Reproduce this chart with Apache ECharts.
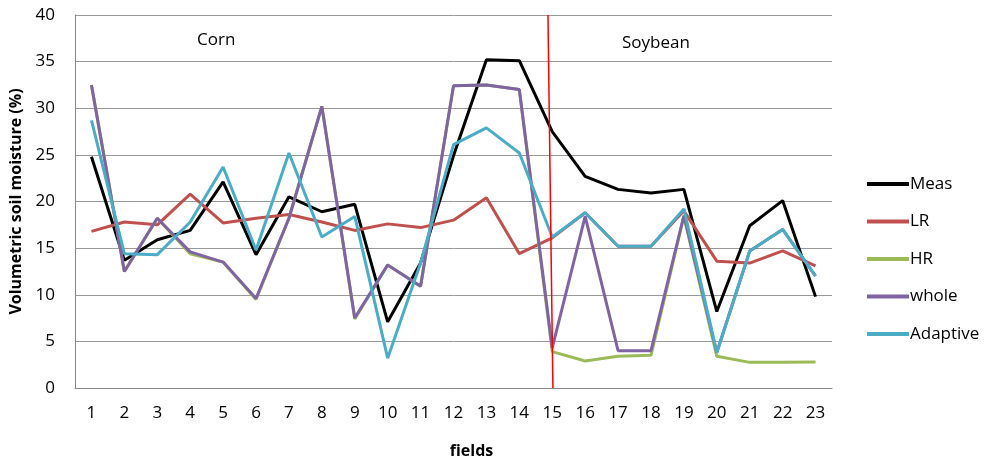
<!DOCTYPE html>
<html lang="en" style="height: 100%">
<head>
  <meta charset="utf-8">
</head>
<body style="height: 100%; margin: 0; background: #fff">
  <div id="container" style="height: 100%"></div>
  <script type="text/javascript" src="https://fastly.jsdelivr.net/npm/echarts@6.0.0/dist/echarts.min.js"></script>
  <script type="text/javascript">
    // fields 1..23 (1-14 corn, 15-23 soybean)
    var fields = ['1','2','3','4','5','6','7','8','9','10','11','12','13','14','15','16','17','18','19','20','21','22','23'];
    var meas     = [24.8, 13.7, 15.9, 16.9, 22.1, 14.3, 20.5, 18.9, 19.7, 7.1, 13.4, 24.9, 35.2, 35.1, 27.5, 22.7, 21.3, 20.9, 21.3, 8.2, 17.4, 20.1, 9.8];
    var lr       = [16.8, 17.8, 17.5, 20.8, 17.7, 18.2, 18.6, 17.8, 16.9, 17.6, 17.2, 18.0, 20.4, 14.4, 16.1, 18.8, 15.2, 15.2, 19.0, 13.6, 13.4, 14.7, 13.1];
    var hr       = [32.5, 12.5, 18.2, 14.4, 13.5, 9.5, 18.2, 30.2, 7.4, 13.2, 10.9, 32.4, 32.5, 32.0, 3.9, 2.9, 3.4, 3.5, 18.4, 3.4, 2.75, 2.75, 2.8];
    var whole    = [32.5, 12.5, 18.2, 14.6, 13.5, 9.6, 18.2, 30.2, 7.5, 13.2, 10.9, 32.4, 32.5, 32.0, 4.3, 18.4, 4.0, 4.0, 18.5, 3.8, 14.7, 17.0, 12.0];
    var adaptive = [28.7, 14.4, 14.3, 17.8, 23.7, 14.8, 25.2, 16.2, 18.4, 3.2, 13.4, 26.1, 27.9, 25.2, 16.2, 18.8, 15.2, 15.2, 19.2, 3.8, 14.7, 17.0, 12.0];
    // corn / soybean divider (x in field units, y in %)
    var divider = [[14.87, 40], [15.02, 0]];

    var names = ['Meas', 'LR', 'HR', 'whole', 'Adaptive'];
    var colors = ['#000000', '#c0504d', '#9bbb59', '#8064a2', '#4bacc6'];
    var values = [meas, lr, hr, whole, adaptive];
    var font = '"Open Sans", sans-serif';

    var dom = document.getElementById('container');
    var myChart = echarts.init(dom, null, { renderer: 'canvas' });

    var series = names.map(function (n, i) {
      return {
        name: n,
        type: 'line',
        data: values[i],
        symbol: 'none',
        color: colors[i],
        lineStyle: { width: 3, color: colors[i] },
        z: 2 + i
      };
    });
    series.push({
      name: 'divider',
      type: 'line',
      xAxisIndex: 1,
      data: divider,
      symbol: 'none',
      lineStyle: { width: 1.5, color: '#ff0000' },
      z: 10
    });

    var option = {
      animation: false,
      textStyle: { fontFamily: font },
      grid: { left: 75, top: 15, right: 159, bottom: 78, containLabel: false, outerBoundsMode: 'none' },
      legend: {
        data: names,
        orient: 'vertical',
        left: 862,
        top: 169,
        icon: 'rect',
        itemWidth: 42,
        itemHeight: 4,
        itemGap: 17.5,
        textStyle: { fontSize: 17, color: '#000', fontFamily: font, padding: [0, 0, 0, -4], lineHeight: 20 }
      },
      xAxis: [{
        type: 'category',
        data: fields,
        boundaryGap: true,
        name: 'fields',
        nameLocation: 'middle',
        nameGap: 55,
        nameTextStyle: { fontSize: 16, fontWeight: 'bold', color: '#000', padding: [0, 0, 0, 36] },
        axisLine: { lineStyle: { color: '#888', width: 1 } },
        axisTick: { show: false },
        axisLabel: { fontSize: 17, color: '#000', margin: 17 }
      }, {
        type: 'value',
        min: 0.5,
        max: 23.5,
        show: false
      }],
      yAxis: {
        type: 'value',
        min: 0,
        max: 40,
        interval: 5,
        name: 'Volumetric soil moisture (%)',
        nameLocation: 'middle',
        nameGap: 50,
        nameTextStyle: { fontSize: 16, fontWeight: 'bold', color: '#000' },
        axisLine: { show: true, lineStyle: { color: '#888', width: 1 } },
        axisTick: { show: false },
        axisLabel: { fontSize: 17, color: '#000', margin: 20 },
        splitLine: { lineStyle: { color: '#999', width: 1 } }
      },
      graphic: [
        { type: 'text', left: 197, top: 32, style: { text: 'Corn', font: '17px ' + font, fill: '#000' } },
        { type: 'text', left: 622, top: 35, style: { text: 'Soybean', font: '17px ' + font, fill: '#000' } }
      ],
      series: series
    };

    myChart.setOption(option);
    window.addEventListener('resize', myChart.resize);
  </script>
</body>
</html>
